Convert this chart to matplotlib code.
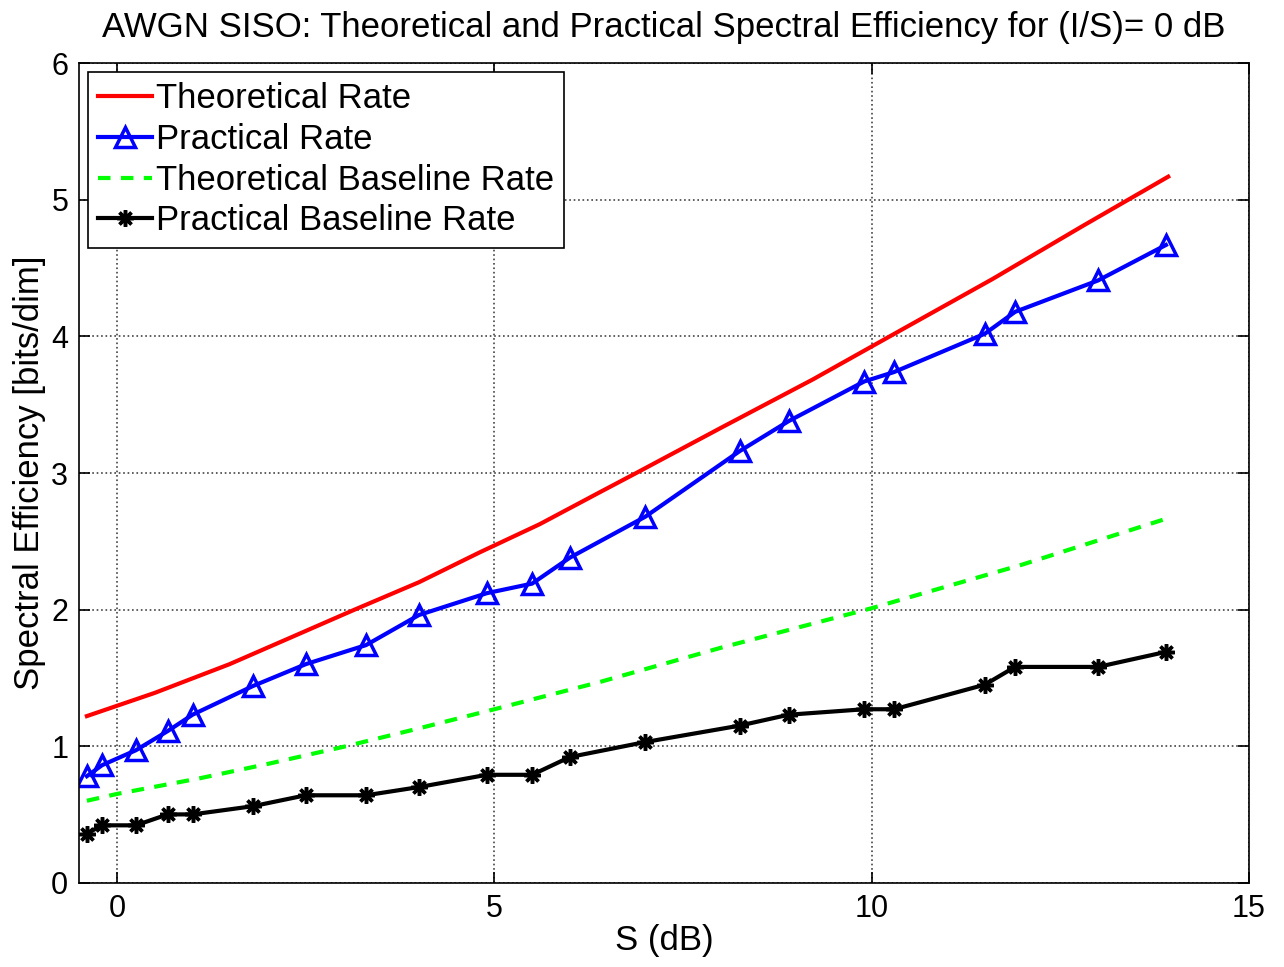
import numpy as np
import matplotlib.pyplot as plt

plt.rcParams['font.family'] = ['Liberation Sans', 'DejaVu Sans']

# S (dB) points of the simulated curves
s_db = [-0.4, -0.2, 0.25, 0.67, 1.0, 1.8, 2.5, 3.3, 4.0, 4.9, 5.5, 6.0,
        7.0, 8.25, 8.9, 9.9, 10.3, 11.5, 11.9, 13.0, 13.9]
practical = [0.78, 0.86, 0.97, 1.11, 1.23, 1.44, 1.60, 1.74, 1.96, 2.12, 2.19, 2.38,
             2.68, 3.16, 3.38, 3.67, 3.74, 4.02, 4.18, 4.41, 4.67]
practical_base = [0.36, 0.42, 0.42, 0.50, 0.50, 0.56, 0.64, 0.64, 0.70, 0.79, 0.79, 0.92,
                  1.03, 1.15, 1.23, 1.27, 1.27, 1.45, 1.58, 1.58, 1.69]

# theoretical curves
s_theo = [-0.4, 0.5, 1.49, 2.3, 3.15, 4.0, 4.81, 5.6, 6.4, 6.88, 8.0, 9.22,
          10.4, 11.6, 12.8, 13.93]
theoretical = [1.22, 1.39, 1.60, 1.795, 2.00, 2.20, 2.42, 2.625, 2.86, 3.00, 3.33, 3.685,
               4.05, 4.42, 4.81, 5.17]
s_base = [-0.4, 0.0, 1.1, 2.0, 3.04, 4.0, 5.0, 6.4, 8.0, 10.0, 12.0, 13.93]
theo_base = [0.60, 0.65, 0.765, 0.87, 1.00, 1.13, 1.27, 1.47, 1.72, 2.01, 2.33, 2.67]

fig = plt.figure(figsize=(12.84, 9.67), dpi=100)
ax = fig.add_axes([0.0618, 0.0872, 0.9109, 0.8473])

ax.plot(s_theo, theoretical, '-', color='#ff0000', lw=3, label='Theoretical Rate')
ax.plot(s_db, practical, '-', color='#0000ff', lw=3, marker='^', ms=15,
        mfc='none', mec='#0000ff', mew=2.5, label='Practical Rate')
ax.plot(s_base, theo_base, '--', color='#00ff00', lw=3, dashes=(3, 2.5),
        label='Theoretical Baseline Rate')
ax.plot(s_db, practical_base, '-', color='black', lw=3, marker=(8, 2, 0), ms=12,
        mec='black', mew=2.5, label='Practical Baseline Rate')

ax.set_xlim(-0.5, 15)
ax.set_ylim(0, 6)
ax.set_xticks([0, 5, 10, 15])
ax.set_yticks([0, 1, 2, 3, 4, 5, 6])
ax.grid(True, linestyle=':', color='#444444', lw=1.2)
ax.tick_params(direction='in', length=8, width=1.2, top=True, right=True,
               labelsize=22, pad=8)
for sp in ax.spines.values():
    sp.set_linewidth(1.2)

ax.set_xlabel('S (dB)', fontsize=25, labelpad=0)
ax.set_ylabel('Spectral Efficiency [bits/dim]', fontsize=25, labelpad=4)
ax.set_title('AWGN SISO: Theoretical and Practical Spectral Efficiency for (I/S)= 0 dB',
             fontsize=25, pad=19)

leg = ax.legend(loc='upper left', fontsize=25, fancybox=False, framealpha=1,
                edgecolor='black', handlelength=1.53, handletextpad=0.12,
                borderpad=0.3, labelspacing=0.22, borderaxespad=0.25)
leg.get_frame().set_linewidth(1.2)

fig.savefig('out.png', dpi=100)
